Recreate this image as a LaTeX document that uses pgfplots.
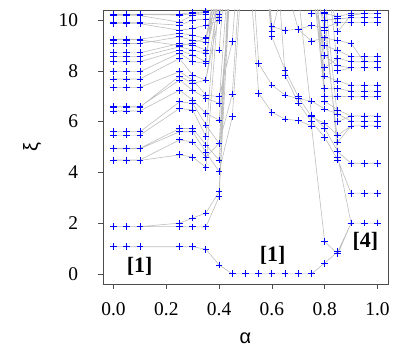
\documentclass[border=0pt]{standalone}
\usepackage{pgfplots}
\usepackage{pgfplotstable}
\pgfplotsset{compat=1.18}
\usepackage{fontspec}
\setmainfont{Liberation Serif}
\newfontfamily\grk{Liberation Sans}
\definecolor{lgray}{RGB}{190,190,190}
\begin{document}
% one path per curve, curves split by nan rows
\pgfplotstableread{
a xi
0 10.24
0.05 10.24
0.1 10.24
0.25 10.24
0.3 10.30
0.35 10.33
0.4 12.5
0.45 17
nan nan
0 10.18
0.05 10.18
0.1 10.18
0.25 9.92
0.3 10.20
0.35 10.24
0.4 10.24
0.45 15
nan nan
0 10.22
0.05 10.22
0.1 10.22
0.25 10.20
0.3 10.25
0.35 10.30
0.4 13
0.45 18
nan nan
0 9.90
0.05 9.90
0.1 9.90
0.25 9.80
0.3 10.00
0.35 10.04
0.4 10.10
0.45 14
nan nan
0 9.86
0.05 9.86
0.1 9.86
0.25 9.60
0.3 9.67
0.35 9.80
0.4 9.98
0.45 14
nan nan
0 9.25
0.05 9.25
0.1 9.25
0.25 9.48
0.3 9.41
0.35 9.27
0.4 11
0.45 16
nan nan
0 9.22
0.05 9.22
0.1 9.22
0.25 9.00
0.3 9.10
0.35 9.30
0.4 12
0.45 17
nan nan
0 9.08
0.05 9.08
0.1 9.08
0.25 9.34
0.3 9.21
0.35 9.14
0.4 12
0.45 17
nan nan
0 8.71
0.05 8.71
0.1 8.71
0.25 9.08
0.3 9.02
0.35 8.82
0.4 8.82
0.45 15
nan nan
0 8.56
0.05 8.56
0.1 8.56
0.25 8.95
0.3 8.82
0.35 8.70
0.4 11
0.45 16
nan nan
0 8.36
0.05 8.36
0.1 8.36
0.25 8.82
0.3 8.62
0.35 8.36
0.4 12
0.45 18
nan nan
0 7.97
0.05 7.97
0.1 7.97
0.25 8.70
0.3 8.36
0.35 8.30
0.4 13
0.45 18
nan nan
0 7.68
0.05 7.68
0.1 7.68
0.25 8.49
0.3 7.83
0.35 7.64
0.4 11
0.45 17
nan nan
0 7.35
0.05 7.35
0.1 7.35
0.25 7.97
0.3 7.64
0.35 7.05
0.4 6.98
0.45 9.15
0.5 16
nan nan
0 6.59
0.05 6.59
0.1 6.59
0.25 7.64
0.3 7.24
0.35 6.92
0.4 6.72
0.45 14
nan nan
0 6.57
0.05 6.57
0.1 6.57
0.25 7.80
0.3 7.50
0.35 7.64
0.4 10.24
0.45 14
nan nan
0 6.42
0.05 6.42
0.1 6.42
0.25 7.24
0.3 6.85
0.35 6.33
0.4 6.06
0.45 12
nan nan
0 5.60
0.05 5.60
0.1 5.60
0.25 6.78
0.3 6.72
0.35 5.87
0.4 5.14
0.45 7.09
0.5 15
nan nan
0 5.47
0.05 5.47
0.1 5.47
0.25 6.52
0.3 6.46
0.35 5.41
0.4 12
0.45 18
nan nan
0 4.95
0.05 4.95
0.1 4.95
0.25 5.73
0.3 5.73
0.35 5.08
0.4 4.49
0.45 13
nan nan
0 4.93
0.05 4.93
0.1 4.93
0.25 5.60
0.3 5.60
0.35 4.80
0.4 4.03
0.45 6.19
0.5 14
nan nan
0 4.49
0.05 4.49
0.1 4.49
0.25 5.28
0.3 5.20
0.35 4.60
0.4 5.15
0.45 13
nan nan
0 4.47
0.05 4.47
0.1 4.47
0.25 4.69
0.3 4.60
0.35 4.20
0.4 11
0.45 16
nan nan
0 1.86
0.05 1.86
0.1 1.86
0.25 2.00
0.3 2.20
0.35 2.40
0.4 3.24
0.45 15
nan nan
0 1.86
0.05 1.86
0.1 1.86
0.25 1.86
0.3 1.85
0.35 1.85
0.4 3.04
0.45 13
nan nan
0 1.07
0.05 1.07
0.1 1.07
0.25 1.07
0.3 1.07
0.35 0.97
0.4 0.35
0.45 0
0.5 0
0.55 0
0.6 0
0.65 0
0.7 0
0.75 0
0.8 0.42
0.85 0.88
0.9 2.0
0.95 2.0
1 2.0
nan nan
0.5 16
0.55 8.29
0.6 7.44
0.65 7.05
0.7 6.90
0.75 6.81
0.8 6.50
0.85 6.30
0.9 6.02
0.95 6.02
1 6.02
nan nan
0.5 14
0.55 7.11
0.6 6.37
0.65 6.10
0.7 6.04
0.75 5.83
0.8 1.27
0.85 0.79
0.9 2.0
0.95 2.0
1 2.0
nan nan
0.55 16
0.6 9.74
0.65 9.60
0.7 9.64
0.75 9.80
0.8 9.70
0.85 9.90
0.9 9.91
0.95 9.91
1 9.91
nan nan
0.55 15
0.6 9.55
0.65 11.5
0.7 14
nan nan
0.55 14
0.6 9.34
0.65 8.03
0.7 6.98
0.75 6.19
0.8 5.93
0.85 5.47
0.9 5.83
0.95 5.83
1 5.83
nan nan
0.6 15
0.65 7.83
0.7 6.73
0.75 6.00
0.8 5.38
0.85 4.49
0.9 3.18
0.95 3.18
1 3.18
nan nan
0.6 17
0.65 12
0.7 11
0.75 6.26
0.8 5.74
0.85 4.81
0.9 4.36
0.95 4.36
1 4.36
nan nan
0.7 16
0.75 10.26
0.8 10.25
0.85 10.15
0.9 10.26
0.95 10.26
1 10.26
nan nan
0.65 17
0.7 13
0.75 11.2
0.8 10.0
0.85 10.05
0.9 10.09
0.95 10.09
1 10.09
nan nan
0.6 15
0.65 11.5
0.7 9.64
0.75 9.17
0.8 9.30
0.85 9.20
0.9 9.08
0.95 8.36
1 8.36
nan nan
0.65 16
0.7 13
0.75 11
0.8 9.0
0.85 8.8
0.9 8.56
0.95 8.56
1 8.56
nan nan
0.7 17
0.75 12.5
0.8 8.12
0.85 8.5
0.9 8.36
0.95 8.36
1 8.36
nan nan
0.7 15
0.75 12
0.8 8.6
0.85 8.2
0.9 8.12
0.95 8.12
1 8.12
nan nan
0.65 17
0.7 14
0.75 11.5
0.8 7.8
0.85 7.6
0.9 7.44
0.95 7.44
1 7.44
nan nan
0.7 16
0.75 13
0.8 7.3
0.85 7.3
0.9 7.2
0.95 7.2
1 7.2
nan nan
0.7 15
0.75 12
0.8 7.0
0.85 7.0
0.9 6.98
0.95 6.98
1 6.98
nan nan
0.7 17
0.75 14
0.8 6.8
0.85 6.46
0.9 6.22
0.95 6.22
1 6.22
nan nan
0.7 18
0.75 15
0.8 11
0.85 6.0
0.9 6.22
0.95 6.22
1 6.22
nan nan
0.7 16
0.75 12
0.8 9.6
0.85 5.2
0.9 5.83
0.95 5.83
1 5.83
nan nan
0.75 16
0.8 12
0.85 9.55
0.9 10.2
0.95 10.26
1 10.26
nan nan
0.75 17
0.8 13
0.85 8.0
0.9 8.12
0.95 8.12
1 8.12
nan nan
0.7 18
0.75 15
0.8 10.3
0.85 4.6
0.9 2.0
0.95 2.0
1 2.0
}\paths
\begin{tikzpicture}
\path[use as bounding box] (-103bp,-78bp) rectangle (311bp,284bp);
\begin{axis}[
  name=ax, at={(0,0)}, anchor=south west,
  scale only axis, width=285bp, height=274bp,
  xmin=-0.04, xmax=1.04, ymin=-0.4, ymax=10.4,
  axis line style={draw=black!70, line width=0.7pt},
  tick align=outside, xtick pos=left, ytick pos=left,
  major tick length=4.5bp,
  tick style={draw=black!70, line width=0.6pt},
  xtick={0,0.2,0.4,0.6,0.8,1}, xticklabels={0.0,0.2,0.4,0.6,0.8,1.0},
  ytick={0,2,4,6,8,10},
  /pgf/number format/assume math mode=true,
  tick label style={font=\fontsize{19.5}{22}\selectfont},
  xticklabel style={yshift=-11bp},
  yticklabel style={xshift=-17bp},
]
\addplot[lgray, line width=0.6pt, unbounded coords=jump] table[x=a, y=xi] {\paths};
\addplot[scatter, only marks, scatter src=y, mark=+, mark size=3.4pt,
  scatter/use mapped color={draw=blue, fill=blue},
  mark options={line width=0.85pt}] table[x=a, y=xi] {\paths};
\node[font=\fontsize{22}{24}\selectfont\bfseries] at (axis cs:0.099,0.28) {[1]};
\node[font=\fontsize{22}{24}\selectfont\bfseries] at (axis cs:0.603,0.71) {[1]};
\node[font=\fontsize{22}{24}\selectfont\bfseries] at (axis cs:0.954,1.30) {[4]};
\end{axis}
\node[font=\fontsize{20}{22}\selectfont\grk] at ([yshift=-54bp]ax.south) {α};
\node[font=\fontsize{20}{22}\selectfont\grk, rotate=90] at ([xshift=-71bp]ax.west) {ξ};
\end{tikzpicture}
\end{document}
